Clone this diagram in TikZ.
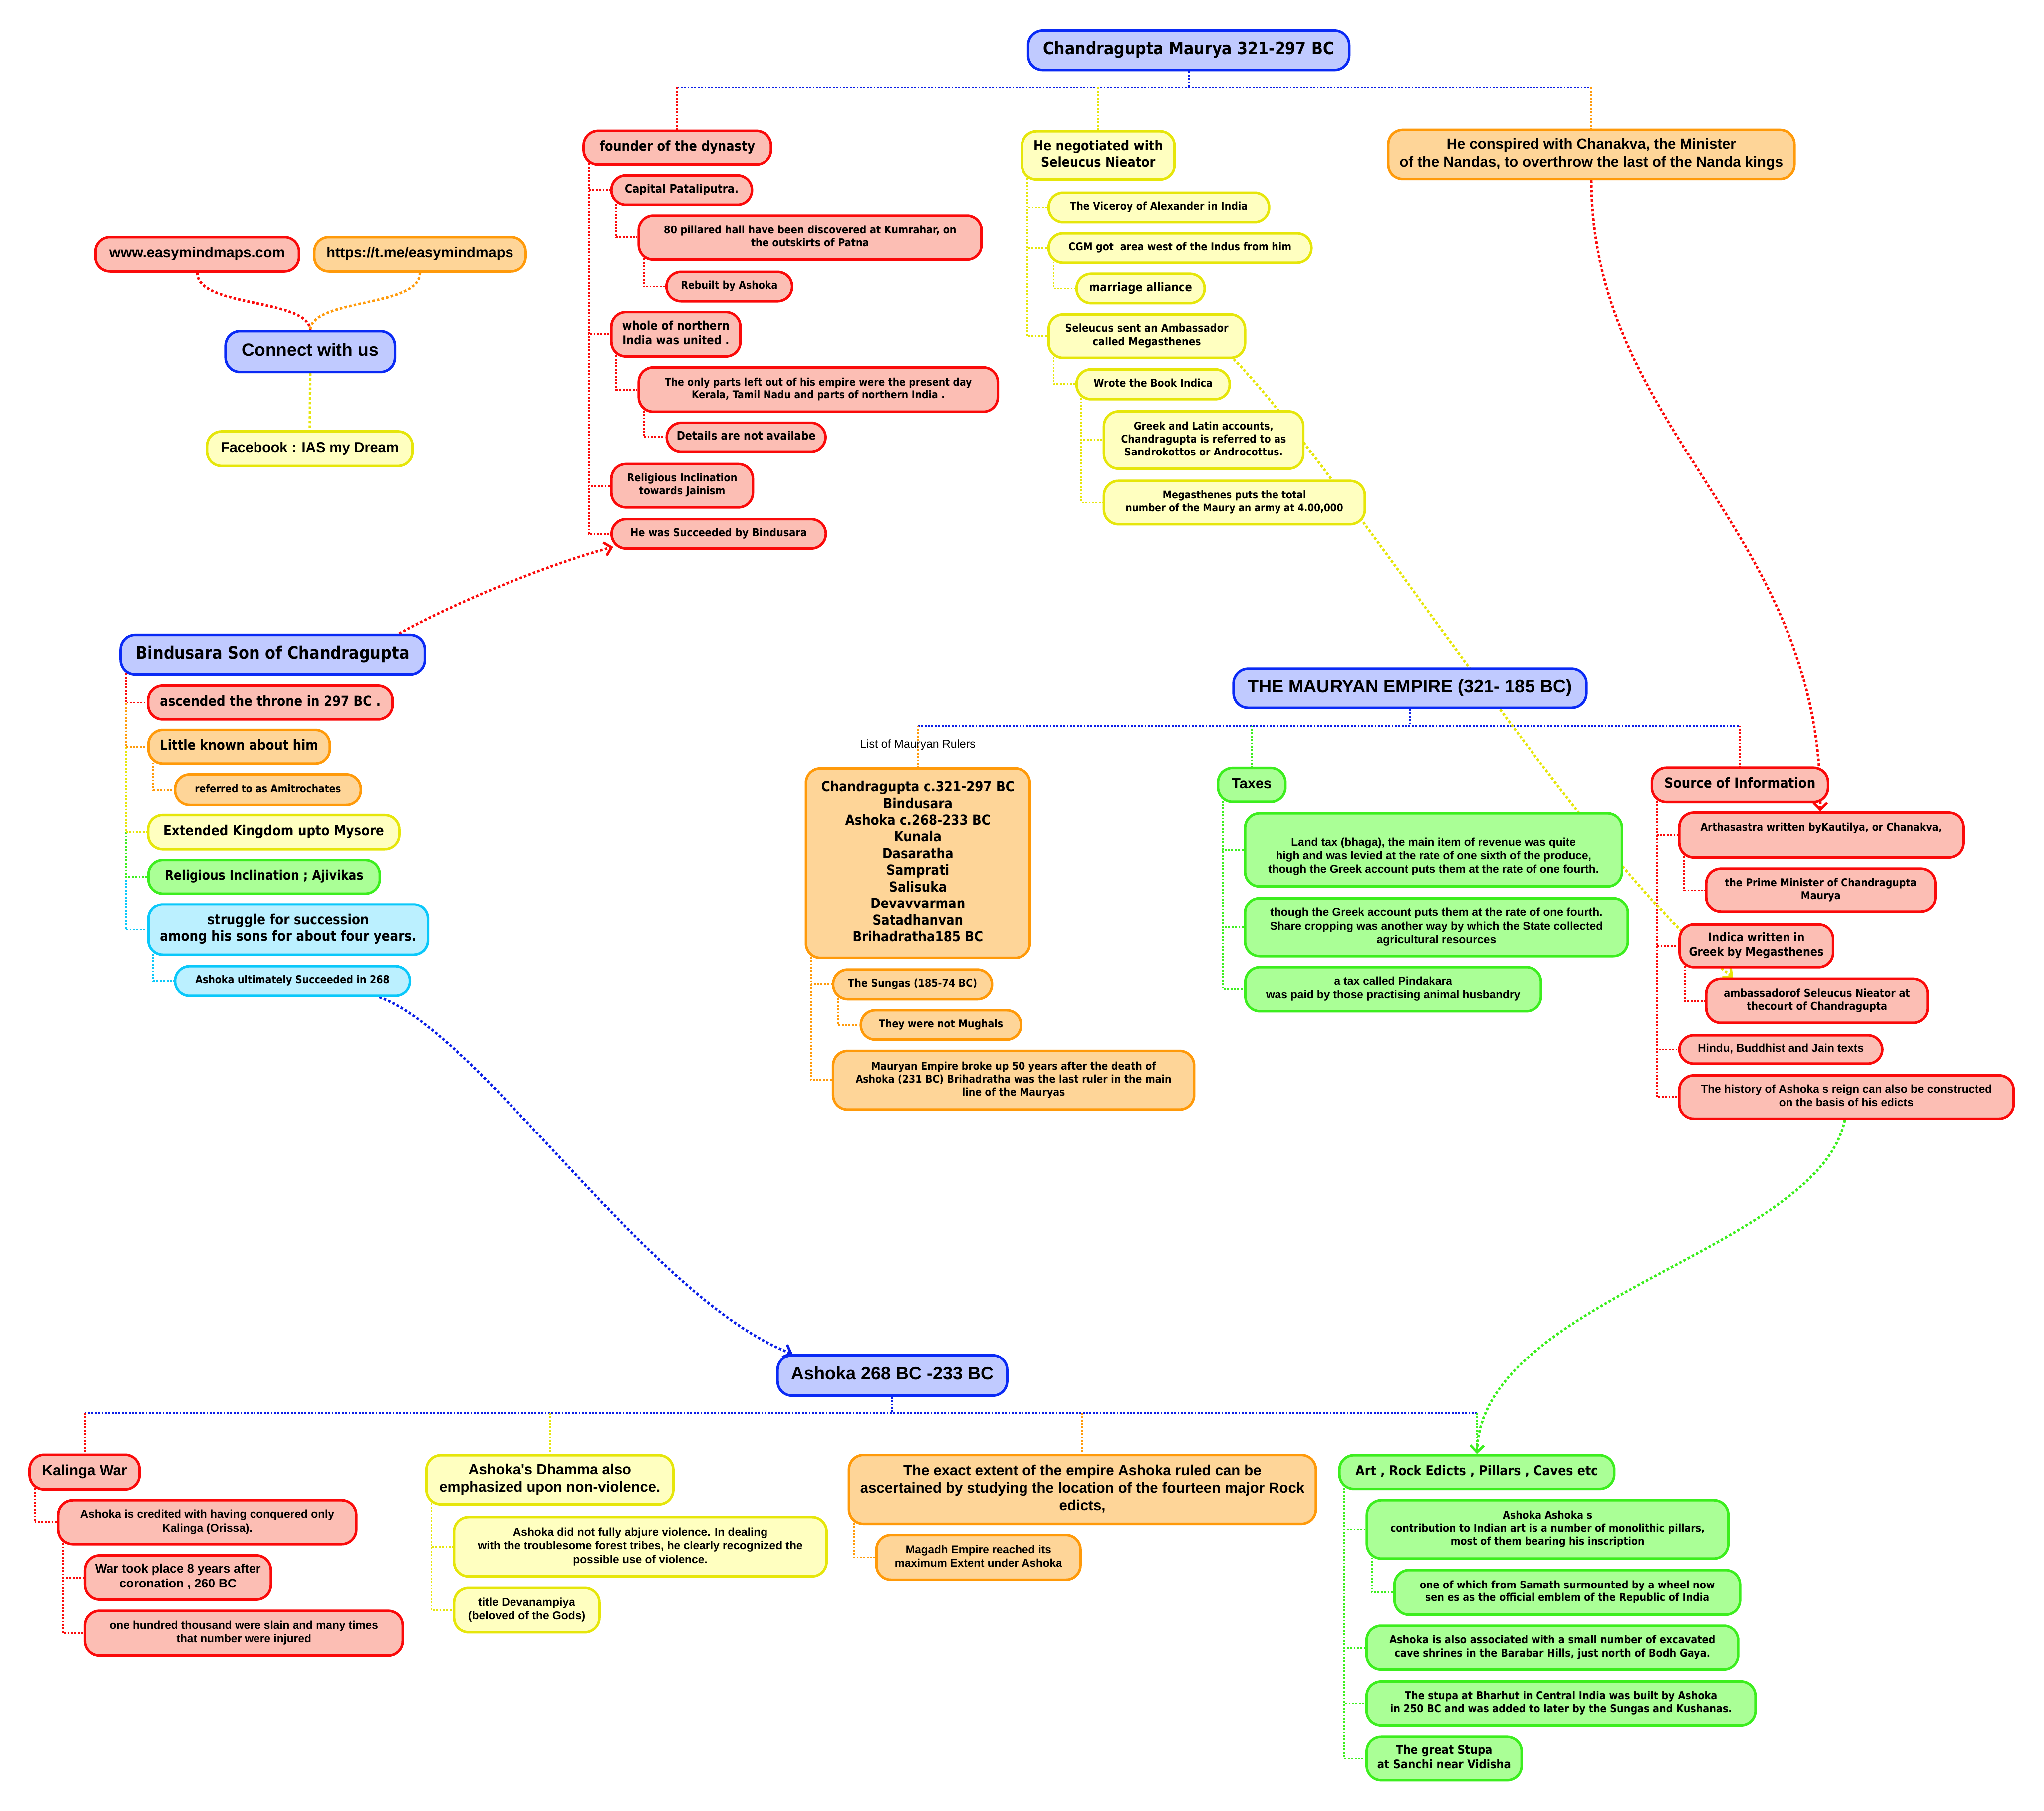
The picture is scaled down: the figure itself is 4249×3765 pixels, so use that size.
\documentclass[tikz,border=0pt]{standalone}
\usepackage{fontspec}
\usepackage{graphicx}
\usetikzlibrary{arrows.meta,backgrounds}
\newfontfamily\fontT{DejaVu Sans}[FakeStretch=0.88]
\newfontfamily\fontA{Liberation Sans}
\newcommand\FV{\fontT\bfseries}
\newcommand\FT{\fontT\bfseries}
\newcommand\FA{\fontA\bfseries}
\definecolor{bD}{HTML}{0A2AF5}
\definecolor{bL}{HTML}{C0CAFF}
\definecolor{rD}{HTML}{FA0A0A}
\definecolor{rL}{HTML}{FCBEB4}
\definecolor{oD}{HTML}{FF9A0A}
\definecolor{oL}{HTML}{FED598}
\definecolor{yD}{HTML}{E6E60A}
\definecolor{yL}{HTML}{FFFFC0}
\definecolor{gD}{HTML}{3CEE1E}
\definecolor{gL}{HTML}{AAFF96}
\definecolor{cD}{HTML}{0AC8FA}
\definecolor{cL}{HTML}{BBF0FF}
\definecolor{bLn}{HTML}{0A1EE6}
\tikzset{
  bx/.style={draw, rounded corners=0.3cm, line width=1.5pt, inner sep=0pt, text=black},
  B/.style={bx, draw=bD, fill=bL},
  R/.style={bx, draw=rD, fill=rL},
  O/.style={bx, draw=oD, fill=oL},
  Y/.style={bx, draw=yD, fill=yL},
  G/.style={bx, draw=gD, fill=gL},
  C/.style={bx, draw=cD, fill=cL},
  ln/.style={line width=1.1pt, dash pattern=on 1.1pt off 0.9pt},
  lB/.style={ln, draw=bLn}, lR/.style={ln, draw=rD}, lO/.style={ln, draw=oD},
  lY/.style={ln, draw=yD}, lG/.style={ln, draw=gD}, lC/.style={ln, draw=cD},
  rel/.style={line width=1.5pt, dash pattern=on 1.5pt off 1.3pt},
  relarrow/.style={rel, -{Straight Barb[length=4pt,width=8pt]}},
}
% name, style, cx, cy, w(cm), h(cm), text width(cm), font, text
\newcommand\Nd[9]{\node[#2,minimum width=#5cm,minimum height=#6cm] (#1) at (#3,#4) {\resizebox{#7cm}{!}{#8\begin{tabular}{@{}c@{}}#9\end{tabular}}};}
\newcommand\Ch[3]{\draw[#1] ([xshift=0.13cm,yshift=0.12cm]#2.south west) |- (#3.west);}
\begin{document}
\begin{tikzpicture}[x=0.01cm,y=-0.01cm]
\useasboundingbox (0,0) rectangle (4249,3765);
\coordinate (L1) at (0,182);
\coordinate (L2) at (0,1509);
\coordinate (L3) at (0,2938);
% ---------- Chandragupta ----------
\Nd{cm}{B}{2471}{105}{6.67}{0.82}{6.04}{\FV}{Chandragupta Maurya 321-297 BC}
\Nd{founder}{R}{1408}{307}{3.89}{0.70}{3.23}{\FT}{founder of the dynasty}
\Nd{capital}{R}{1417}{395}{2.92}{0.61}{2.36}{\FT}{Capital Pataliputra.}
\Nd{pillared}{R}{1684}{494}{7.12}{0.92}{6.08}{\FT}{80 pillared hall have been discovered at Kumrahar, on\\the outskirts of Patna}
\Nd{rebuilt}{R}{1516}{596}{2.61}{0.61}{2.01}{\FT}{Rebuilt by Ashoka}
\Nd{whole}{R}{1405}{695}{2.68}{0.92}{2.23}{\FT}{whole of northern\\India was united .}
\Nd{parts}{R}{1701}{810}{7.46}{0.92}{6.38}{\FT}{The only parts left out of his empire were the present day\\Kerala, Tamil Nadu and parts of northern India .}
\Nd{details}{R}{1551}{909}{3.30}{0.60}{2.89}{\FT}{Details are not availabe}
\Nd{jain}{R}{1418}{1010}{2.94}{0.90}{2.29}{\FT}{Religious Inclination\\towards Jainism}
\Nd{succ}{R}{1494}{1110}{4.45}{0.61}{3.67}{\FT}{He was Succeeded by Bindusara}
\Nd{nego}{Y}{2283}{323}{3.17}{1.00}{2.69}{\FV}{He negotiated with\\Seleucus Nieator}
\Nd{viceroy}{Y}{2409}{431}{4.58}{0.61}{3.69}{\FV}{The Viceroy of Alexander in India}
\Nd{cgm}{Y}{2453}{516}{5.46}{0.61}{4.63}{\FV}{CGM got\ \ area west of the Indus from him}
\Nd{marriage}{Y}{2371}{600}{2.66}{0.61}{2.14}{\FV}{marriage alliance}
\Nd{seleucus}{Y}{2384}{699}{4.08}{0.90}{3.39}{\FV}{Seleucus sent an Ambassador\\called Megasthenes}
\Nd{wrote}{Y}{2397}{799}{3.18}{0.62}{2.47}{\FV}{Wrote the Book Indica}
\Nd{greek}{Y}{2502}{915}{4.14}{1.19}{3.43}{\FV}{Greek and Latin accounts,\\Chandragupta is referred to as\\Sandrokottos or Androcottus.}
\Nd{megas}{Y}{2566}{1045}{5.42}{0.90}{4.52}{\FV}{Megasthenes puts the total\\number of the Maury an army at 4.00,000}
\Nd{consp}{O}{3308}{321}{8.44}{1.02}{7.97}{\FA}{He conspired with Chanakva, the Minister\\of the Nandas, to overthrow the last of the Nanda kings}
% ---------- Connect ----------
\Nd{www}{R}{410}{529}{4.23}{0.71}{3.65}{\FA}{www.easymindmaps.com}
\Nd{tme}{O}{873}{529}{4.39}{0.71}{3.88}{\FA}{https://t.me/easymindmaps}
\Nd{connect}{B}{645}{731}{3.52}{0.85}{2.84}{\FA}{Connect with us}
\Nd{fb}{Y}{644}{933}{4.27}{0.72}{3.70}{\FA}{Facebook : IAS my Dream}
% ---------- Bindusara ----------
\Nd{bind}{B}{567}{1361}{6.32}{0.82}{5.68}{\FT}{Bindusara Son of Chandragupta}
\Nd{asc}{R}{562}{1461}{5.08}{0.70}{4.59}{\FV}{ascended the throne in 297 BC .}
\Nd{little}{O}{497}{1553}{3.77}{0.70}{3.29}{\FV}{Little known about him}
\Nd{amit}{O}{557}{1642}{3.86}{0.63}{3.04}{\FV}{referred to as Amitrochates}
\Nd{mysore}{Y}{569}{1730}{5.22}{0.71}{4.59}{\FV}{Extended Kingdom upto Mysore}
\Nd{ajiv}{G}{549}{1823}{4.81}{0.70}{4.13}{\FV}{Religious Inclination ; Ajivikas}
\Nd{strug}{C}{599}{1933}{5.81}{1.05}{5.33}{\FV}{struggle for succession\\among his sons for about four years.}
\Nd{ashu}{C}{608}{2040}{4.88}{0.61}{4.04}{\FV}{Ashoka ultimately Succeeded in 268}
% ---------- Mauryan Empire ----------
\Nd{me}{B}{2931}{1431}{7.33}{0.82}{6.74}{\FA}{THE MAURYAN EMPIRE (321- 185 BC)}
\node (listlbl) at (1908,1549) {\resizebox{2.40cm}{!}{\fontA List of Mauryan Rulers}};
\Nd{rulers}{O}{1908}{1795}{4.65}{3.94}{4.01}{\FT}{Chandragupta c.321-297 BC\\Bindusara\\Ashoka c.268-233 BC\\Kunala\\Dasaratha\\Samprati\\Salisuka\\Devavvarman\\Satadhanvan\\Brihadratha185 BC}
\Nd{sungas}{O}{1897}{2047}{3.30}{0.61}{2.68}{\FT}{The Sungas (185-74 BC)}
\Nd{mughal}{O}{1956}{2131}{3.33}{0.61}{2.58}{\FT}{They were not Mughals}
\Nd{broke}{O}{2107}{2246}{7.50}{1.22}{6.56}{\FT}{Mauryan Empire broke up 50 years after the death of\\Ashoka (231 BC) Brihadratha was the last ruler in the main\\line of the Mauryas}
\Nd{taxes}{G}{2602}{1632}{1.40}{0.70}{0.83}{\FA}{Taxes}
\Nd{land}{G}{2980}{1767}{7.83}{1.52}{6.87}{\FA}{\\Land tax (bhaga), the main item of revenue was quite\\high and was levied at the rate of one sixth of the produce,\\though the Greek account puts them at the rate of one fourth.}
\Nd{greektwo}{G}{2986}{1928}{7.95}{1.21}{6.92}{\FA}{though the Greek account puts them at the rate of one fourth.\\Share cropping was another way by which the State collected\\agricultural resources}
\Nd{pinda}{G}{2896}{2057}{6.14}{0.91}{5.28}{\FA}{a tax called Pindakara\\was paid by those practising animal husbandry}
\Nd{source}{R}{3617}{1632}{3.66}{0.71}{3.14}{\FT}{Source of Information}
\Nd{artha}{R}{3786}{1736}{5.90}{0.93}{5.02}{\FT}{Arthasastra written byKautilya, or Chanakva,\\ \strut}
\Nd{pm}{R}{3785}{1851}{4.76}{0.90}{3.99}{\FT}{the Prime Minister of Chandragupta\\Maurya}
\Nd{indica}{R}{3651}{1967}{3.19}{0.89}{2.80}{\FT}{Indica written in\\Greek by Megasthenes}
\Nd{amb}{R}{3777}{2081}{4.60}{0.91}{3.87}{\FT}{ambassadorof Seleucus Nieator at\\thecourt of Chandragupta}
\Nd{hindu}{R}{3702}{2182}{4.22}{0.59}{3.45}{\FA}{Hindu, Buddhist and Jain texts}
\Nd{hist}{R}{3838}{2281}{6.94}{0.90}{6.04}{\FA}{The history of Ashoka s reign can also be constructed\\on the basis of his edicts}
% ---------- Ashoka ----------
\Nd{ashoka}{B}{1855}{2860}{4.77}{0.84}{4.21}{\FA}{Ashoka 268 BC -233 BC}
\Nd{kalinga}{R}{176}{3061}{2.28}{0.72}{1.76}{\FA}{Kalinga War}
\Nd{cred}{R}{431}{3165}{6.19}{0.91}{5.28}{\FA}{Ashoka is credited with having conquered only\\Kalinga (Orissa).}
\Nd{wareight}{R}{370}{3280}{3.86}{0.92}{3.44}{\FA}{War took place 8 years after\\coronation , 260 BC}
\Nd{slain}{R}{507}{3396}{6.60}{0.93}{5.58}{\FA}{one hundred thousand were slain and many times\\that number were injured}
\Nd{dhamma}{Y}{1143}{3077}{5.13}{1.02}{4.59}{\FA}{Ashoka's Dhamma also\\emphasized upon non-violence.}
\Nd{abjure}{Y}{1331}{3216}{7.74}{1.23}{6.75}{\FA}{Ashoka did not fully abjure violence. In dealing\\with the troublesome forest tribes, he clearly recognized the\\possible use of violence.}
\Nd{deva}{Y}{1095}{3348}{3.02}{0.92}{2.44}{\FA}{title Devanampiya\\(beloved of the Gods)}
\Nd{extent}{O}{2250}{3097}{9.70}{1.43}{9.23}{\FA}{The exact extent of the empire Ashoka ruled can be\\ascertained by studying the location of the fourteen major Rock\\edicts,}
\Nd{magadh}{O}{2034}{3238}{4.24}{0.93}{3.48}{\FA}{Magadh Empire reached its\\maximum Extent under Ashoka}
\Nd{art}{G}{3070}{3061}{5.71}{0.70}{5.04}{\FV}{Art , Rock Edicts , Pillars , Caves etc}
\Nd{pillars}{G}{3217}{3180}{7.51}{1.21}{6.53}{\FV}{Ashoka Ashoka s\\contribution to Indian art is a number of monolithic pillars,\\most of them bearing his inscription}
\Nd{samath}{G}{3258}{3311}{7.18}{0.93}{6.13}{\FV}{one of which from Samath surmounted by a wheel now\\sen es as the official emblem of the Republic of India}
\Nd{barabar}{G}{3227}{3426}{7.72}{0.91}{6.77}{\FV}{Ashoka is also associated with a small number of excavated\\cave shrines in the Barabar Hills, just north of Bodh Gaya.}
\Nd{bharhut}{G}{3245}{3542}{8.08}{0.91}{7.10}{\FV}{The stupa at Bharhut in Central India was built by Ashoka\\in 250 BC and was added to later by the Sungas and Kushanas.}
\Nd{sanchi}{G}{3002}{3656}{3.22}{0.90}{2.78}{\FV}{The great Stupa\\at Sanchi near Vidisha}
% ---------- connectors ----------
\begin{pgfonlayer}{background}
\fill[white] (0,0) rectangle (4249,3765);
% Chandragupta branches
\draw[lB] (cm.south) -- (cm.south |- L1);
\draw[lB] (founder.north |- L1) -- (consp.north |- L1);
\draw[lR] (founder.north |- L1) -- (founder.north);
\draw[lY] (nego.north |- L1) -- (nego.north);
\draw[lO] (consp.north |- L1) -- (consp.north);
\Ch{lR}{founder}{succ}
\Ch{lR}{founder}{jain}
\Ch{lR}{founder}{whole}
\Ch{lR}{founder}{capital}
\Ch{lR}{capital}{pillared}
\Ch{lR}{pillared}{rebuilt}
\Ch{lR}{whole}{parts}
\Ch{lR}{parts}{details}
\Ch{lY}{nego}{seleucus}
\Ch{lY}{nego}{cgm}
\Ch{lY}{nego}{viceroy}
\Ch{lY}{cgm}{marriage}
\Ch{lY}{seleucus}{wrote}
\Ch{lY}{wrote}{megas}
\Ch{lY}{wrote}{greek}
% Connect
\draw[rel, draw=rD] (www.south) .. controls (410,640) and (640,620) .. (connect.north);
\draw[rel, draw=oD] (tme.south) .. controls (873,640) and (650,620) .. (connect.north);
\draw[rel, draw=yD] (connect.south) -- (fb.north);
% Bindusara
\Ch{lC}{bind}{strug}
\Ch{lG}{bind}{ajiv}
\Ch{lY}{bind}{mysore}
\Ch{lO}{bind}{little}
\Ch{lR}{bind}{asc}
\Ch{lO}{little}{amit}
\Ch{lC}{strug}{ashu}
% Mauryan empire
\draw[lB] (me.south) -- (me.south |- L2);
\draw[lB] (rulers.north |- L2) -- (source.north |- L2);
\draw[lO] (rulers.north |- L2) -- (rulers.north);
\draw[lG] (taxes.north |- L2) -- (taxes.north);
\draw[lR] (source.north |- L2) -- (source.north);
\Ch{lO}{rulers}{broke}
\Ch{lO}{rulers}{sungas}
\Ch{lO}{sungas}{mughal}
\Ch{lG}{taxes}{pinda}
\Ch{lG}{taxes}{greektwo}
\Ch{lG}{taxes}{land}
\Ch{lR}{source}{hist}
\Ch{lR}{source}{hindu}
\Ch{lR}{source}{indica}
\Ch{lR}{source}{artha}
\Ch{lR}{artha}{pm}
\Ch{lR}{indica}{amb}
% Ashoka
\draw[lB] (ashoka.south) -- (ashoka.south |- L3);
\draw[lB] (kalinga.north |- L3) -- (art.north |- L3);
\draw[lR] (kalinga.north |- L3) -- (kalinga.north);
\draw[lY] (dhamma.north |- L3) -- (dhamma.north);
\draw[lO] (extent.north |- L3) -- (extent.north);
\draw[lG] (art.north |- L3) -- (art.north);
\Ch{lR}{kalinga}{cred}
\Ch{lR}{cred}{slain}
\Ch{lR}{cred}{wareight}
\Ch{lY}{dhamma}{deva}
\Ch{lY}{dhamma}{abjure}
\Ch{lO}{extent}{magadh}
\Ch{lG}{art}{sanchi}
\Ch{lG}{art}{bharhut}
\Ch{lG}{art}{barabar}
\Ch{lG}{art}{pillars}
\Ch{lG}{pillars}{samath}
% relationship curves
\draw[relarrow, draw=rD] (consp.south) .. controls (3310,900) and (3790,1100) .. ([xshift=-0.02cm]artha.north);
\draw[relarrow, draw=yD] ([xshift=-0.26cm]seleucus.south east) .. controls (2800,990) and (3300,1800) .. ([xshift=-1.74cm]amb.north);
\draw[relarrow, draw=rD] ([xshift=-0.56cm]bind.north east) .. controls (950,1250) and (1150,1170) .. ([xshift=0.06cm,yshift=0.06cm]succ.south west);
\draw[relarrow, draw=bLn] ([xshift=-0.66cm]ashu.south east) .. controls (1000,2150) and (1350,2700) .. ([xshift=0.34cm]ashoka.north west);
\draw[relarrow, draw=gD] ([xshift=-0.03cm]hist.south) .. controls (3780,2600) and (3080,2700) .. (art.north);
\end{pgfonlayer}
\end{tikzpicture}
\end{document}
